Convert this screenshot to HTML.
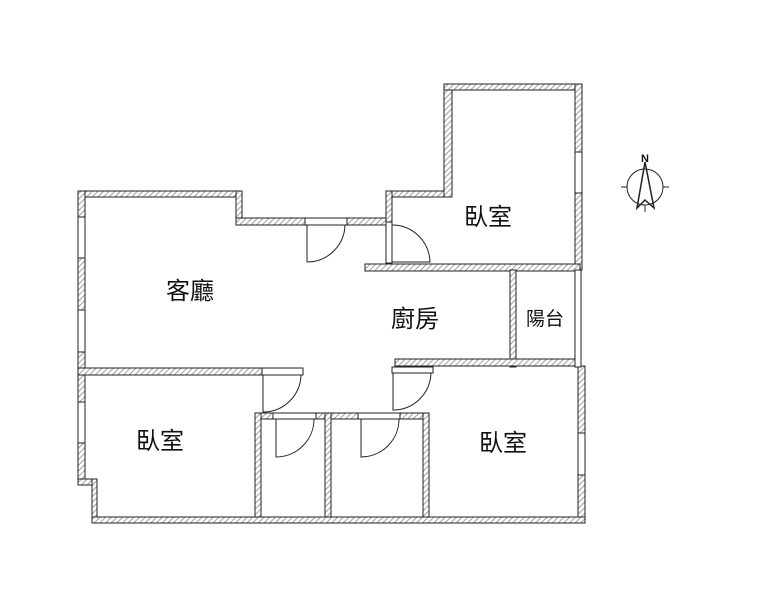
<!DOCTYPE html>
<html><head><meta charset="utf-8"><style>
html,body{margin:0;padding:0;background:#fff;}
svg{display:block;}
text{font-family:"Liberation Sans","Noto Sans CJK TC",sans-serif;fill:#111;}
</style></head><body>
<svg width="760" height="590" viewBox="0 0 760 590" xmlns="http://www.w3.org/2000/svg">
<defs>
<pattern id="h" width="4" height="4" patternUnits="userSpaceOnUse" patternTransform="rotate(45)">
<rect width="4" height="4" fill="#fff"/><line x1="0" y1="0" x2="0" y2="4" stroke="#888" stroke-width="1.6"/>
</pattern>
</defs>
<g fill="url(#h)" stroke="#222" stroke-width="1">
<!-- living room top -->
<rect x="78" y="191" width="164" height="6"/>
<rect x="236" y="191" width="6" height="34"/>
<rect x="236" y="218" width="156" height="7"/>
<rect x="386" y="191" width="66" height="6"/>
<rect x="386" y="191" width="6" height="34"/>
<rect x="444" y="84" width="8" height="113"/>
<rect x="444" y="84" width="138" height="6"/>
<rect x="575" y="84" width="7" height="186"/>
<!-- kitchen -->
<rect x="365" y="264" width="215" height="7"/>
<rect x="510" y="270" width="6" height="97"/>
<rect x="395" y="359" width="185" height="7"/>
<!-- left wall -->
<rect x="78" y="191" width="7" height="294"/>
<rect x="78" y="479" width="19" height="6"/>
<rect x="92" y="479" width="5" height="44"/>
<!-- living/bedroom -->
<rect x="78" y="368" width="184" height="7"/>
<!-- bath block -->
<rect x="255" y="413" width="174" height="6"/>
<rect x="255" y="413" width="6" height="110"/>
<rect x="325" y="413" width="6" height="110"/>
<rect x="423" y="413" width="6" height="110"/>
<!-- right bedroom -->
<rect x="578" y="366" width="7" height="157"/>
<!-- bottom -->
<rect x="92" y="517" width="493" height="6"/>
</g>
<!-- windows & door frames -->
<g fill="#fff" stroke="#222" stroke-width="1">
<rect x="78" y="217" width="7" height="41"/>
<rect x="78" y="310" width="7" height="42"/>
<rect x="78" y="402" width="7" height="41"/>
<rect x="575" y="152" width="7" height="41"/>
<rect x="575" y="270" width="6" height="97"/>
<rect x="578" y="433" width="7" height="42"/>
<rect x="305" y="218" width="42" height="7"/>
<rect x="386" y="222" width="6" height="41"/>
<rect x="262" y="368" width="41" height="7"/>
<rect x="392" y="367" width="41" height="6"/>
<rect x="273" y="413" width="43" height="6"/>
<rect x="358" y="413" width="42" height="6"/>
</g>
<!-- doors -->
<g fill="none" stroke="#222" stroke-width="1">
<path d="M307 225 V262 A38 38 0 0 0 345 225"/>
<path d="M392 262 H430 A38 38 0 0 0 392 225"/>
<path d="M263 375 V412 A38 38 0 0 0 301 375"/>
<path d="M393 373 V410 A38 38 0 0 0 431 373"/>
<path d="M276 419 V457 A38 38 0 0 0 314 419"/>
<path d="M361 419 V457 A38 38 0 0 0 399 419"/>
</g>
<!-- compass -->
<g fill="none" stroke="#222" stroke-width="1">
<circle cx="645" cy="187" r="18"/>
<line x1="621" y1="187" x2="627" y2="187"/><line x1="663" y1="187" x2="669" y2="187"/>
<line x1="645" y1="205" x2="645" y2="212"/>
<path d="M645 162 L637 208 L645 200 L654 208 Z" stroke-width="1.5"/>
</g>
<text x="645" y="162" font-size="11" text-anchor="middle" font-weight="bold">N</text>
<g font-size="24" text-anchor="middle">
<text x="190" y="299">客廳</text>
<text x="488" y="225">臥室</text>
<text x="415" y="327">廚房</text>
<text x="160" y="449">臥室</text>
<text x="503" y="451">臥室</text>
</g>
<text x="545" y="325" font-size="19" text-anchor="middle">陽台</text>
</svg>
</body></html>
